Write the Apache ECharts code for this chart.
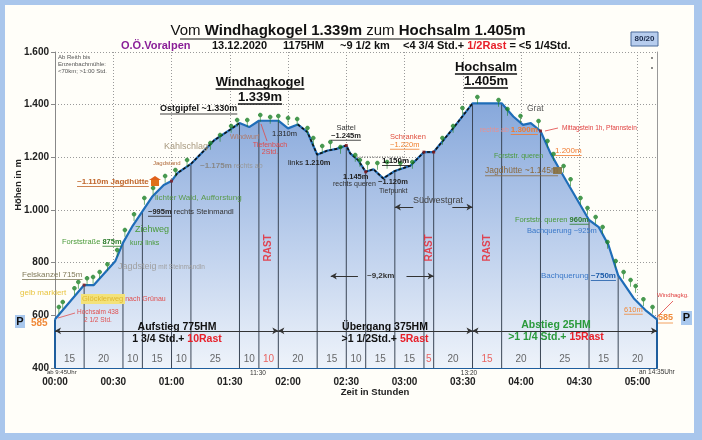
<!DOCTYPE html>
<html><head><meta charset="utf-8">
<script src="https://cdn.jsdelivr.net/npm/echarts@6/dist/echarts.min.js"></script>
<style>html,body{margin:0;padding:0;background:#a9c6ec}#c{width:702px;height:440px}</style>
</head><body><div id="c"></div>
<script>
// ---- data (time in minutes from start, elevation in m) ----
const profileTime = [0,15,20,31,35,40,45,50,56,60,63,70,82,90,95,100,105,115,120,125,130,135,140,145,150,152,156,160,164,169,175,183,190,195,205,215,230,236,241,245,250,255,260,275,280,285,290,298,304,310];
const profileElev = [585,715,715,805,875,940,995,1050,1095,1110,1140,1175,1265,1304,1330,1315,1339,1339,1310,1325,1296,1210,1225,1232,1245,1215,1190,1145,1155,1120,1148,1168,1220,1220,1310,1405,1405,1355,1323,1330,1300,1218,1152,962,935,867,752,665,620,585];
const segDurations = [15,20,10,15,10,25,10,10,20,15,10,15,15,5,20,15,20,25,15,20];
const segIsRest    = [0,0,0,0,0,0,0,1,0,0,0,0,0,1,0,1,0,0,0,0];
const dashedRanges = [[62,95],[125,215]];
const markerTimes = [15,60,150,160,190,195,250];
const treeTime = [2,4,10,12,16.5,19.6,23,27,32,36,40.7,46,50.5,56.7,62,68,80,85,90.7,93.8,99,105.7,110.8,115,120,124.7,130,133,137.6,141.8,147,154.6,157,161,166,171,177.8,184,199.5,205,209.8,217.5,228.4,233,239.7,249,253.6,256.7,261.9,265.5,270.6,274.2,278.4,282,284.5,288.7,292.8,296.4,299,303,307.7];
const treeElev = [631,650,703,726,741,745,764,794,848,924,984,1045,1083,1129,1152,1190,1254,1285,1319,1342,1342,1361,1353,1357,1349,1345,1311,1273,1243,1258,1239,1209,1190,1178,1178,1182,1178,1182,1273,1319,1387,1429,1418,1383,1357,1338,1262,1212,1167,1117,1045,1007,973,935,878,806,764,734,711,661,631];
const yTicks = [400,600,800,1000,1200,1400,1600];

// ---- helpers ----
function elevAt(t){
  for(let i=1;i<profileTime.length;i++){
    if(t<=profileTime[i]){const t0=profileTime[i-1],t1=profileTime[i];const f=(t-t0)/(t1-t0);return profileElev[i-1]+f*(profileElev[i]-profileElev[i-1]);}
  }
  return profileElev[profileElev.length-1];
}
const profile = profileTime.map((t,i)=>[t,profileElev[i]]);
const boundaries=[0]; segDurations.forEach(d=>boundaries.push(boundaries[boundaries.length-1]+d));
const mids = segDurations.map((d,i)=>boundaries[i]+d/2);
function dashedData(){
  const out=[];
  dashedRanges.forEach(r=>{
    out.push([r[0],elevAt(r[0])]);
    profile.forEach(p=>{if(p[0]>r[0]&&p[0]<r[1])out.push(p);});
    out.push([r[1],elevAt(r[1])]);
    out.push([null,null]);
  });
  return out;
}
const pad=n=>String(n).padStart(2,'0');
const fmtH=v=>v>=1000?Math.floor(v/1000)+'.'+String(v%1000).padStart(3,'0'):String(v);

const FONT='"Liberation Sans", Arial, sans-serif';
const cv=document.createElement('canvas').getContext('2d');
function fnt(s){return (s.bold?'bold ':'')+s.size+'px '+FONT;}
function meas(s){cv.font=fnt(s);return cv.measureText(s.text).width;}
function S(text,size,color,bold,ul){return {text,size,color:color||'#222',bold:!!bold,ul:!!ul};}
const G=[];
function T(x,y,segs,align,extra){
  const w=segs.map(meas);const tot=w.reduce((a,b)=>a+b,0);
  let cx=align==='center'?x-tot/2:(align==='right'?x-tot:x);
  segs.forEach((s,i)=>{
    G.push(Object.assign({type:'text',z:100,x:cx,y:y,silent:true,style:{text:s.text,fill:s.color,font:fnt(s),align:'left',verticalAlign:'middle',textAlign:'left',textVerticalAlign:'middle'}},extra||{}));
    if(s.ul){const uy=y+s.size*0.5+0.5;G.push({type:'line',z:100,silent:true,shape:{x1:cx,y1:uy,x2:cx+w[i],y2:uy},style:{stroke:s.color,lineWidth:s.size>11?1.3:0.8}});}
    cx+=w[i];
  });
}
function L(x1,y1,x2,y2,color,lw,dash){G.push({type:'line',z:100,silent:true,shape:{x1,y1,x2,y2},style:{stroke:color,lineWidth:lw||1,lineDash:dash||null}});}
function R(x,y,w,h,fill,stroke){G.push({type:'rect',z:99,silent:true,shape:{x,y,width:w,height:h},style:{fill,stroke:stroke||null,lineWidth:stroke?1:0}});}

// background panel
G.push({type:'rect',z:-10,silent:true,shape:{x:5,y:5,width:689,height:428},style:{fill:'#fffef9'}});

// Title
T(348,31,[S('Vom ',15,'#111'),S('Windhagkogel 1.339m',15,'#111',true),S(' zum ',15,'#111'),S('Hochsalm 1.405m',15,'#111',true)],'center');
L(180,39,516,39,'#111',1.2);
T(121,46,[S('O.Ö.Voralpen',11,'#8a1f98',true)],'left');
T(212,46,[S('13.12.2020',11,'#111',true)],'left');
T(283,46,[S('1175HM',11,'#111',true)],'left');
T(340,46,[S('~9 1/2 km',11,'#111',true)],'left');
T(403,46,[S('<4 3/4 Std.+ ',11,'#111',true),S('1/2Rast',11,'#e8202a',true),S(' = <5 1/4Std.',11,'#111',true)],'left');
R(631,32,27,14,'#b7cdee','#4a6a9a');
T(644.5,39,[S('80/20',8,'#1a2a4a',true)],'center');
G.push({type:'circle',z:100,shape:{cx:652,cy:58,r:0.9},style:{fill:'#555'}});
G.push({type:'circle',z:100,shape:{cx:652,cy:68,r:0.9},style:{fill:'#555'}});

// axis-side texts
T(0,0,[S('Höhen in m',9.5,'#222',true)],'center',{x:18,y:185,rotation:Math.PI/2});
G[G.length-1].x=18;G[G.length-1].y=185;G[G.length-1].style.align='center';G[G.length-1].style.textAlign='center';
T(375,392,[S('Zeit in Stunden',9.5,'#222',true)],'center');
T(47,372,[S('ab 9:45Uhr',6,'#333')],'left');
T(258,373,[S('11:30',6.5,'#333')],'center');
T(469,373,[S('13:20',6.5,'#333')],'center');
T(639,372,[S('an 14:35Uhr',6.5,'#333')],'left');

// annotations
T(58,57,[S('Ab Reith bis',6,'#555')],'left');
T(58,64,[S('Enzenbachmühle:',6,'#555')],'left');
T(58,71,[S('<70km; >1:00 Std.',6,'#555')],'left');
T(260,82,[S('Windhagkogel',13,'#111',true,true)],'center');
T(260,97,[S('1.339m',13,'#111',true,true)],'center');
T(486,67,[S('Hochsalm',13,'#111',true,true)],'center');
T(486,81,[S('1.405m',13,'#111',true,true)],'center');
T(160,109,[S('Ostgipfel ~1.330m',9,'#111',true,true)],'left');
T(230,137,[S('Windwurf',7,'#b07a6a')],'left');
T(270,145,[S('Tiefenbach',7,'#e04a4a')],'center');
T(270,152,[S('2Std.',7,'#e04a4a')],'center');
L(261,124,267,141,'#e04a4a',0.8);
T(272,134,[S('1.310m',7.5,'#222')],'left');
T(288,163,[S('links ',7.5,'#222'),S('1.210m',7.5,'#222',true)],'left');
T(164,147,[S('Kahlschlag',9,'#a89a80')],'left');
T(153,163,[S('Jagdstand',6,'#b06a3a')],'left');
T(200,166,[S('~1.175m',8,'#888',true),S(' rechts ab',7,'#999')],'left');
T(77,182,[S('~1.110m Jagdhütte',8,'#c0652a',true,true)],'left');
G.push({type:'polygon',z:100,shape:{points:[[149,180],[155,176],[161,180]]},style:{fill:'#e0601a'}});
R(151,180,8,6,'#e0701a');
T(155,198,[S('lichter Wald, Aufforstung',8,'#5a9a4a')],'left');
T(148,212,[S('~995m',7.5,'#222',true,true),S(' rechts Steinmandl',7.5,'#333')],'left');
T(135,230,[S('Ziehweg',9,'#4a9a3a')],'left');
T(130,243,[S('kurz links',7,'#4a9a3a')],'left');
T(62,242,[S('Forststraße ',7.5,'#4a9a3a'),S('875m',7.5,'#2a7a2a',true,true)],'left');
T(118,267,[S('Jagdsteig',9,'#a0a0a0'),S(' mit Steinmandln',6.5,'#a0a0a0')],'left');
T(22,275,[S('Felskanzel 715m',8,'#807a5a',false,true)],'left');
T(20,293,[S('gelb markiert',8,'#e8c440')],'left');
R(81,294,44,10,'#f3e27a');
T(82,299,[S('Glöcklerweg',7.5,'#e0b830'),S(' nach Grünau',7,'#e05050')],'left');
T(77,312,[S('Hochsalm 438',6.5,'#e05050')],'left');
T(84,320,[S('2 1/2 Std.',6.5,'#e05050')],'left');
L(58,318,75,313,'#e05050',0.8);
R(15,315,10,13,'#a9c8ee');
T(20,321.5,[S('P',11,'#111',true)],'center');
T(31,323,[S('585',10,'#f08a3a',true)],'left');
T(346,128,[S('Sattel',7.5,'#333')],'center');
T(346,136,[S('~1.245m',7.5,'#222',true,true)],'center');
T(343,177,[S('1.145m',7.5,'#222',true)],'left');
T(333,184,[S('rechts queren',7,'#333')],'left');
T(378,182,[S('~1.120m',7.5,'#222',true)],'left');
T(379,191,[S('Tiefpunkt',7,'#333')],'left');
L(357,157,405,157,'#333',0.8,[1,1.5]);
T(382,161,[S('1.150m',8,'#111',true,true)],'left');
T(390,137,[S('Schranken',7.5,'#e05040')],'left');
T(390,145,[S('~1.220m',7.5,'#f08030',false,true)],'left');
T(413,201,[S('Südwestgrat',9,'#444')],'left');
T(367,276,[S('~9,2km',8,'#333',true)],'left');
T(527,109,[S('Grat',8.5,'#555')],'left');
T(480,130,[S('rechts ab ',7,'#e89090'),S('1.300m',8,'#f07a30',true,true)],'left');
L(545,131,558,128,'#e04040',0.8);
T(562,128,[S('Mittagstein 1h, Pfannstein',6.5,'#e04040')],'left');
T(555,151,[S('1.200m',8,'#f07a30',false,true)],'left');
T(494,156,[S('Forststr. queren',7,'#4a9a3a')],'left');
T(485,171,[S('Jagdhütte ~1.145m',8.5,'#8a6a40',false,true)],'left');
R(553,167,9,7,'#8a7a50');
T(515,220,[S('Forststr. queren ',7.5,'#4a9a3a'),S('960m',7.5,'#2a7a2a',true,true)],'left');
T(527,231,[S('Bachquerung ~925m',7.5,'#3a78c8')],'left');
T(541,276,[S('Bachquerung ',8,'#3a78c8'),S('~750m',8,'#1a5aa8',true,true)],'left');
T(624,310,[S('610m',7.5,'#f08a3a',false,true)],'left');
T(657,295,[S('Windhagkg.',6,'#e04040')],'left');
L(657,317,673,301,'#e04040',0.8);
T(658,318,[S('585',9,'#f08a3a',true,true)],'left');
R(681,311,11,14,'#a9c8ee');
T(686.5,318,[S('P',11,'#111',true)],'center');
T(177,327,[S('Aufstieg 775HM',10.5,'#111',true)],'center');
T(177,339,[S('1 3/4 Std.+ ',10.5,'#111',true),S('10Rast',10.5,'#e8202a',true)],'center');
T(385,327,[S('Übergang 375HM',10.5,'#111',true)],'center');
T(385,339,[S('>1 1/2Std.+ ',10.5,'#111',true),S('5Rast',10.5,'#e8202a',true)],'center');
T(556,325,[S('Abstieg 25HM',10.5,'#2a9a3a',true)],'center');
T(556,337,[S('>1 1/4 Std.+ ',10.5,'#2a9a3a',true),S('15Rast',10.5,'#e8202a',true)],'center');

// arrow lines (annotation positions in data units)
const arrowLines=[
  [[0,541],[115,541],'arrow','arrow'],
  [[115,541],[215,541],'arrow','arrow'],
  [[215,541],[310,541],'arrow','arrow'],
  [[142,749],[156,749],'arrow','none'],
  [[181,749],[195,749],'none','arrow'],
  [[175,1011],[184.5,1011],'arrow','none'],
  [[204.6,1011],[215,1011],'none','arrow']
];

const chart=echarts.init(document.getElementById('c'),null,{renderer:'canvas'});
chart.setOption({
  animation:false,
  backgroundColor:'#a9c6ec',
  grid:{left:55,right:45,top:52,bottom:72,containLabel:false},
  xAxis:{type:'value',min:0,max:310,interval:30,
    axisLine:{show:true,lineStyle:{color:'#1f5e9e',width:2}},
    axisTick:{show:true,inside:true,length:3,lineStyle:{color:'#666'}},
    axisLabel:{margin:9,color:'#222',fontWeight:'bold',fontSize:10,fontFamily:FONT,
      formatter:v=>v%30===0?pad(Math.floor(v/60))+':'+pad(v%60):''},
    splitLine:{show:true,lineStyle:{color:'#9a9a9a',type:[1,2],width:1}}},
  yAxis:[{type:'value',min:yTicks[0],max:yTicks[yTicks.length-1],interval:200,
    axisLine:{show:true,lineStyle:{color:'#888'}},
    axisTick:{show:true,length:4,lineStyle:{color:'#888'}},
    axisLabel:{margin:6,color:'#222',fontWeight:'bold',fontSize:10,fontFamily:FONT,formatter:fmtH},
    splitLine:{show:true,lineStyle:{color:'#9a9a9a',type:[1,2],width:1}}},
    {type:'value',min:400,max:1600,interval:200,position:'right',
    axisLine:{show:true,lineStyle:{color:'#999'}},axisTick:{show:false},axisLabel:{show:false},splitLine:{show:false}}],
  series:[
    {type:'line',name:'profile',data:profile,symbol:'none',z:3,
      lineStyle:{color:'#1f6db8',width:2.2},
      areaStyle:{opacity:1,color:new echarts.graphic.LinearGradient(0,0,0,1,[{offset:0,color:'#87a8db'},{offset:0.55,color:'#bfd1ed'},{offset:1,color:'#eef3fa'}])},
      markLine:{silent:true,animation:false,symbolSize:[5,6],label:{show:false},
        lineStyle:{color:'#333',width:1,type:'solid'},
        data:arrowLines.map(a=>[{coord:a[0],symbol:a[2]},{coord:a[1],symbol:a[3]}])}},
    {type:'line',name:'dashed',data:dashedData(),symbol:'none',z:4,connectNulls:false,
      lineStyle:{color:'#111',width:1.6,type:[3,2]}},
    {type:'custom',name:'segments',z:3,silent:true,
      data:boundaries.map(t=>[t,elevAt(t)]),
      renderItem:function(params,api){
        const t=api.value(0),h=api.value(1);
        const p0=api.coord([t,400]),p1=api.coord([t,h]);
        const edge=(t===boundaries[0]||t===boundaries[boundaries.length-1]);
        return {type:'line',shape:{x1:p0[0],y1:p0[1],x2:p1[0],y2:p1[1]},
          style:{stroke:edge?'#1f5e9e':'#3b4656',lineWidth:edge?2:1}};
      }},
    {type:'scatter',name:'markers',z:6,silent:true,symbol:'rect',symbolSize:3,
      data:markerTimes.map(t=>[t,elevAt(t)]),itemStyle:{color:'#8b1a1a'}},
    {type:'scatter',name:'trees',z:5,silent:true,
      data:treeTime.map((t,i)=>[t,treeElev[i]]),
      symbol:'path://M2,0 L4,0 L6,2 L6,4 L4,6 L2,6 L0,4 L0,2 Z M2.5,6 L3.5,6 L3.5,12 L2.5,12 Z',
      symbolSize:[4.5,9],symbolOffset:[0,2.2],itemStyle:{color:'#1a7f26'}},
    {type:'scatter',name:'durations',z:6,silent:true,symbolSize:0,
      data:mids.map((m,i)=>({value:[m,434],label:{color:segIsRest[i]?'#e8403a':'#444'}})),
      label:{show:true,position:'inside',fontSize:10,fontFamily:FONT,formatter:p=>String(segDurations[p.dataIndex])}},
    {type:'scatter',name:'rast',z:6,silent:true,symbolSize:0,
      data:mids.filter((m,i)=>segIsRest[i]).map(m=>[m,856]),
      label:{show:true,position:'inside',rotate:90,fontSize:10,fontWeight:'bold',color:'#e8202a',fontFamily:FONT,formatter:'RAST'}}
  ],
  graphic:{elements:G}
});
</script>
</body></html>
